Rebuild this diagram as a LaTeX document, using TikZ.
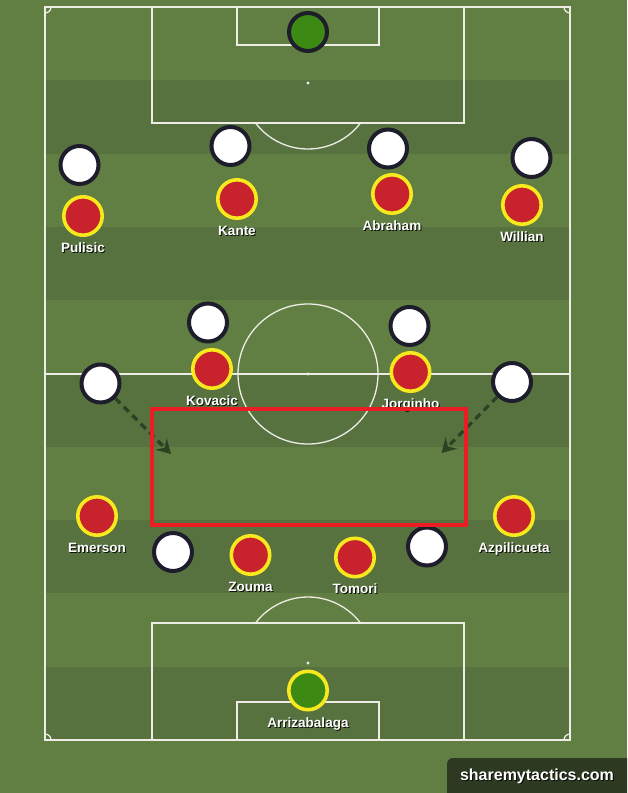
\documentclass[tikz,border=0pt]{standalone}
\usepackage{fontspec}
\setmainfont{Liberation Sans}
\usetikzlibrary{arrows.meta,shadows}
\definecolor{grassA}{HTML}{617F43}
\definecolor{grassB}{HTML}{58723F}
\definecolor{lineW}{HTML}{EDEDE6}
\definecolor{oppB}{HTML}{1D1D2B}
\definecolor{homeR}{HTML}{C8232C}
\definecolor{homeY}{HTML}{F7E91E}
\definecolor{gkG}{HTML}{3C8A14}
\definecolor{boxR}{HTML}{EC1C24}
\definecolor{arrG}{HTML}{2F4123}
\definecolor{logoBG}{HTML}{2E3921}
\begin{document}
\begin{tikzpicture}[x=1pt,y=-1pt,
  pline/.style={draw=lineW,line width=1.3pt},
  oppp/.style={circle,draw=oppB,line width=4pt,fill=white,minimum size=38pt,inner sep=0pt,
    drop shadow={shadow xshift=1pt,shadow yshift=-1.5pt,opacity=0.25}},
  oppgk/.style={oppp,fill=gkG},
  homep/.style={circle,draw=homeY,line width=3.6pt,fill=homeR,minimum size=38.4pt,inner sep=0pt,
    drop shadow={shadow xshift=1pt,shadow yshift=-1.5pt,opacity=0.25}},
  homegk/.style={homep,fill=gkG},
  lbl/.style={text=white,font=\bfseries\fontsize{13.5}{14}\selectfont,anchor=base,inner sep=0pt},
  lblsh/.style={lbl,text=black,opacity=0.85},
  runarrow/.style={draw=arrG,line width=3.2pt,dash pattern=on 7pt off 5pt,
    -{Stealth[length=14pt,width=16pt,inset=5pt]}},
]
\useasboundingbox (0,0) rectangle (627,793);
\fill[grassA] (0,0) rectangle (627,793);
\foreach \i in {1,3,5,7,9}
  \fill[grassB] (45,{7+73.3*\i}) rectangle (570,{7+73.3*(\i+1)});
% pitch lines
\draw[pline] (45,7) rectangle (570,740);
\draw[pline] (45,374) -- (570,374);
\draw[pline] (308,374) circle[radius=70];
\draw[pline] (152,7) rectangle (464,123);
\draw[pline] (237,7) rectangle (379,45);
\draw[pline] (152,740) rectangle (464,623);
\draw[pline] (237,740) rectangle (379,702);
\draw[pline] (308,83) ++(37.3:66) arc[start angle=37.3,end angle=142.7,radius=66];
\draw[pline] (308,663) ++(-142.7:66) arc[start angle=-142.7,end angle=-37.3,radius=66];
\draw[pline] (51,7) arc[start angle=0,end angle=90,radius=6];
\draw[pline] (564,7) arc[start angle=180,end angle=90,radius=6];
\draw[pline] (564,740) arc[start angle=180,end angle=270,radius=6];
\draw[pline] (51,740) arc[start angle=0,end angle=-90,radius=6];
\fill[lineW] (308,374) circle[radius=1.7];
\fill[lineW] (308,83) circle[radius=1.7];
\fill[lineW] (308,663) circle[radius=1.7];
% opposition
\node[oppgk] (o0) at (308,32) {};
\node[oppp] (o1) at (79.5,165) {};
\node[oppp] (o2) at (230.5,146) {};
\node[oppp] (o3) at (388,148.5) {};
\node[oppp] (o4) at (531.5,158) {};
\node[oppp] (o5) at (208,322.5) {};
\node[oppp] (o6) at (409.5,326) {};
\node[oppp] (o7) at (100.5,383.5) {};
\node[oppp] (o8) at (512,382) {};
\node[oppp] (o9) at (173,552) {};
\node[oppp] (o10) at (427,546.5) {};
% home
\node[homep] (h1) at (83,216) {};
\node[homep] (h2) at (237,199) {};
\node[homep] (h3) at (392,194) {};
\node[homep] (h4) at (522,205) {};
\node[homep] (h5) at (212,369) {};
\node[homep] (h6) at (410.5,372) {};
\node[homep] (h7) at (97,516) {};
\node[homep] (h8) at (250.5,555) {};
\node[homep] (h9) at (355,557.5) {};
\node[homep] (h10) at (514,516) {};
\node[homegk] (h0) at (308,690.5) {};
% labels
\foreach \x/\y/\t/\n in {83/247/Pulisic/l1,237/230/Kante/l2,392/225.5/Abraham/l3,522/236.5/Willian/l4,
  212/400/Kovacic/l5,410.5/403/Jorginho/l6,97/547.5/Emerson/l7,250.5/586.5/Zouma/l8,
  355/588/Tomori/l9,514/547.5/Azpilicueta/l10,308/722.5/Arrizabalaga/l0}{
  \node[lblsh] at (\x+1,\y+6) {\t};
  \node[lbl] (\n) at (\x,\y+5) {\t};
}
% runs
\coordinate (t1) at (171,454);
\coordinate (t2) at (441.5,453);
\draw[runarrow] (o7) -- (t1);
\draw[runarrow] (o8) -- (t2);
% zone
\draw[draw=boxR,line width=4pt] (152,409) rectangle (466,525);
% logo
\fill[logoBG] (627,793) -- (447,793) [rounded corners=6pt] -- (447,758) [sharp corners] -- (627,758) -- cycle;
\node[text=black,opacity=0.8,font=\bfseries\fontsize{16}{18}\selectfont,inner sep=0pt] at (538,777) {sharemytactics.com};
\node[text=white,font=\bfseries\fontsize{16}{18}\selectfont,inner sep=0pt] (logo) at (537,776) {sharemytactics.com};
\end{tikzpicture}
\end{document}
